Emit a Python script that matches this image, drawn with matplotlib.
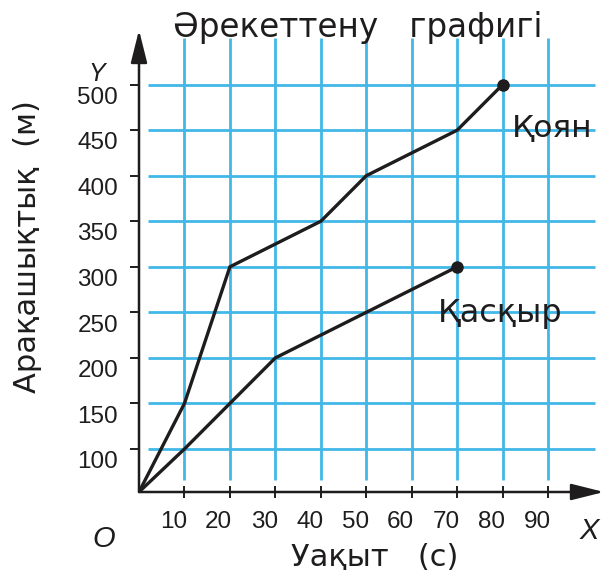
import numpy as np
import matplotlib
matplotlib.use("Agg")
import matplotlib.pyplot as plt

plt.rcParams['font.family'] = ['Liberation Sans', 'DejaVu Sans']
WORDS = ['DejaVu Sans']

# data
x_ticks = [10, 20, 30, 40, 50, 60, 70, 80, 90]
y_ticks = [100, 150, 200, 250, 300, 350, 400, 450, 500]
rabbit_t = [0, 10, 20, 40, 50, 70, 80]
rabbit_d = [0, 150, 300, 350, 400, 450, 500]
wolf_t = [0, 10, 20, 30, 50, 70]
wolf_d = [0, 100, 150, 200, 250, 300]

BLUE = '#41b8e8'
INK = '#1e1c1d'

# the bottom step 0..100 is drawn squeezed in the book
K = 43 / 91
def fwd(y):
    y = np.asarray(y, float)
    return np.where(y < 100, 100 - (100 - y) * K, y)
def inv(z):
    z = np.asarray(z, float)
    return np.where(z < 100, 100 - (100 - z) / K, z)

fig = plt.figure(figsize=(6.06, 5.75), dpi=100)
ax = fig.add_axes([139/606, 83/575, 465/606, 462/575])
ax.set_yscale('function', functions=(fwd, inv))
ax.set_xlim(0, 102.3)
ax.set_ylim(0, 560)
for s in ax.spines.values():
    s.set_visible(False)

# grid
ax.hlines(y_ticks, 2, 100.4, color=BLUE, lw=2.0, zorder=1)
ax.vlines(x_ticks, 27.8, 551, color=BLUE, lw=2.0, zorder=1)

# axes with arrows
arr = dict(arrowstyle='-|>,head_length=1.0,head_width=0.25', color=INK, lw=1.8,
           shrinkA=0, shrinkB=0, mutation_scale=20)
ax.annotate('', xy=(1, 0), xytext=(0, 0), xycoords='axes fraction', arrowprops=arr)
ax.annotate('', xy=(0, 1), xytext=(0, 0), xycoords='axes fraction', arrowprops=arr)

ax.set_xticks(x_ticks)
ax.set_yticks(y_ticks)
ax.tick_params(axis='x', direction='inout', length=8, width=1.4, color=INK, labelbottom=False)
ax.tick_params(axis='y', direction='out', length=6.5, width=1.4, color=INK, labelleft=False)
ax.minorticks_off()

for v in y_ticks:
    ax.annotate(str(v), xy=(0, v), xytext=(-15, -9.5), textcoords='offset points',
                ha='right', va='center', fontsize=17.5, color=INK)
for v in x_ticks:
    ax.annotate(str(v), xy=(v, 0), xytext=(-8, -21.5), textcoords='offset points',
                ha='center', va='center', fontsize=17.5, color=INK, annotation_clip=False)

# series
ax.plot(rabbit_t, rabbit_d, color=INK, lw=2.4, solid_joinstyle='round', zorder=3)
ax.plot(wolf_t, wolf_d, color=INK, lw=2.4, solid_joinstyle='round', zorder=3)
ax.plot(rabbit_t[-1], rabbit_d[-1], 'o', color=INK, ms=8, zorder=4)
ax.plot(wolf_t[-1], wolf_d[-1], 'o', color=INK, ms=8, zorder=4)
ax.text(82.1, 443, 'Қоян', fontsize=22.5, family=WORDS, color=INK, ha='left', va='baseline')
ax.text(65.8, 239, 'Қасқыр', fontsize=23, family=WORDS, color=INK, ha='left', va='baseline')

# labels
fig.text(358/606, 1 - 28/575, 'Әрекеттену   графигі', fontsize=23.5, family=WORDS,
         color=INK, ha='center', va='center')
fig.text(28/606, 1 - 247/575, 'Арақашықтық  (м)', fontsize=22, family=WORDS, color=INK,
         rotation=90, ha='center', va='center')
fig.text(375/606, 1 - 557/575, 'Уақыт   (с)', fontsize=22, family=WORDS, color=INK,
         ha='center', va='center')
fig.text(97/606, 1 - 74/575, 'Y', fontsize=18, style='italic', color=INK, ha='center', va='center')
fig.text(104/606, 1 - 539/575, 'O', fontsize=21, style='italic', color=INK, ha='center', va='center')
fig.text(589/606, 1 - 531/575, 'X', fontsize=21, style='italic', color=INK, ha='center', va='center')

fig.savefig('out.png', dpi=100)
